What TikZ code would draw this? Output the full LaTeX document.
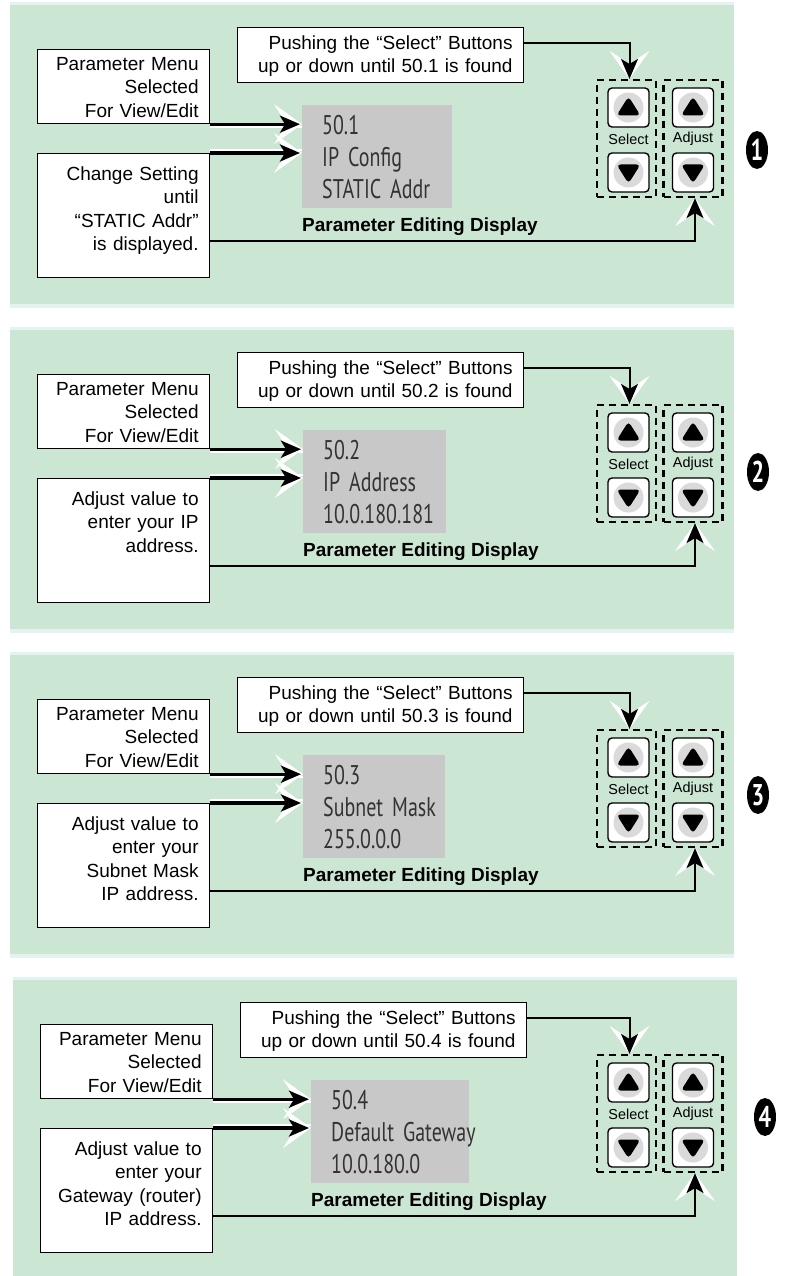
\documentclass[tikz,border=0pt]{standalone}
\usepackage{fontspec}
\setmainfont{Liberation Sans}
\newfontfamily\lcdfont[FakeStretch=0.74, WordSpace=0.6]{PT Sans}
\usepackage{tikz}
\usetikzlibrary{positioning,arrows.meta,shapes.geometric,calc}
\definecolor{panelgreen}{RGB}{203,230,210}
\definecolor{panelrim}{RGB}{228,242,240}
\definecolor{lcdgray}{RGB}{200,200,200}
\definecolor{knobgray}{RGB}{218,218,218}
\tikzset{%
  note/.style={
    draw,
    fill=white,
    line width=1.2pt,
    anchor=north west,
    align=right,
    inner xsep=11pt,
    inner ysep=0pt,
    font=\fontsize{19}{23.5}\selectfont
  },
  lcd/.style={
    fill=lcdgray,
    anchor=north west,
    align=left,
    inner xsep=20pt,
    inner ysep=0pt,
    text height=29pt,
    text depth=74pt,
    text=black!80,
    font=\lcdfont\fontsize{27}{32}\selectfont
  },
  dispcaption/.style={
    anchor=north west,
    inner sep=0pt,
    font=\bfseries\fontsize{19}{22}\selectfont
  },
  padgroup/.style={
    draw,
    dash pattern=on 7pt off 5pt,
    line width=2.2pt,
    minimum width=59pt,
    minimum height=117pt
  },
  button/.style={
    draw,
    fill=white,
    rounded corners=4pt,
    line width=1.4pt,
    minimum width=41pt,
    minimum height=39pt
  },
  knob up/.style={
    button,
    path picture={
      \fill[knobgray] (path picture bounding box.center) circle (15pt);
      \fill[black] (path picture bounding box.center) +(0,-11) -- +(-12,8) -- +(12,8) -- cycle;
    }
  },
  knob down/.style={
    button,
    path picture={
      \fill[knobgray] (path picture bounding box.center) circle (15pt);
      \fill[black] (path picture bounding box.center) +(0,11) -- +(-12,-8) -- +(12,-8) -- cycle;
    }
  },
  padtag/.style={inner sep=0pt, font=\fontsize{14.4}{16}\selectfont},
  badge/.style={
    ellipse,
    fill=black,
    text=white,
    inner sep=0pt,
    minimum width=22pt,
    minimum height=38pt,
    font=\lcdfont\bfseries\fontsize{30}{30}\selectfont
  },
  halo tip/.style={white, line width=0.5pt, -{Stealth[length=28pt, width=40pt, inset=13pt]}},
  halo line/.style={white, line width=2.5pt},
  feed/.style={line width=3.3pt, shorten >=2pt, -{Stealth[length=20pt, width=17pt, inset=5pt]}},
  link/.style={line width=2pt, -{Stealth[length=20pt, width=17pt, inset=5pt]}},
}

\begin{document}
\begin{tikzpicture}[> = stealth, x=1pt, y=-1pt]
\useasboundingbox (0,0) rectangle (788,1276);
\foreach \p/\dy/\bx/\dl/\dr/\nx/\ny/\pname/\pval/\help in {
    1/0/0/302/452/757/150/{IP Config}/{STATIC Addr}/{Change Setting\\until\\“STATIC Addr”\\is displayed.},
    2/325/0/303/446/758/147/{IP Address}/{10.0.180.181}/{Adjust value to\\enter your IP\\address.},
    3/650/0/303/445/758/145/{Subnet Mask}/{255.0.0.0}/{Adjust value to\\enter your\\Subnet Mask\\IP address.},
    4/975/3/311/469/765/142/{Default Gateway}/{10.0.180.0}/{Adjust value to\\enter your\\Gateway (router)\\IP address.}}
{
    % panel
    \fill[panelrim] (10+\bx,2+\dy) rectangle (734+\bx,308+\dy);
    \fill[panelgreen] (10+\bx,5+\dy) rectangle (734+\bx,304+\dy);

    \node[note, text width=150pt, text height=20.6pt, text depth=53.4pt] (menu_\p) at (37+\bx,49+\dy)
        {Parameter Menu\\Selected\\For View/Edit};
    \node[note, text width=150pt, text height=26.6pt, text depth=97.4pt] (help_\p) at (37+\bx,153+\dy)
        {\help};
    \node[note, text width=264pt, text height=21.6pt, text depth=33.4pt] (top_\p) at (237+\bx,27+\dy)
        {Pushing the “Select” Buttons\\up or down until 50.\p{} is found};

    \node[lcd, text width={\dr-\dl-40}] (disp_\p) at (\dl,105+\dy)
        {\mbox{50.\p}\\\mbox{\pname}\\\mbox{\pval}};
    \node[dispcaption] (cap_\p) at ([yshift=-9pt]disp_\p.south west) {Parameter Editing Display};

    % buttons
    \node[padgroup] (sel_\p) at (626.5,138.5+\dy) {};
    \node[padgroup] (adj_\p) at (693,138.5+\dy) {};
    \foreach \g/\gx/\gname in {sel/628.5/Select, adj/693/Adjust} {
        \node[knob up] (\g_up_\p) at (\gx,107.5+\dy) {};
        \node[knob down] (\g_dn_\p) at (\gx,172.5+\dy) {};
        \node[padtag] (\g_tag_\p) at (\gx,139+\dy) {\gname};
    }

    \node[badge] (num_\p) at (\nx,\ny+\dy) {\p};

    % connectors
    \draw[halo tip] (menu_\p.south east) -- (menu_\p.south east -| disp_\p.west);
    \draw[halo tip] (help_\p.north east) -- (help_\p.north east -| disp_\p.west);
    \draw[halo line] ([yshift=-3pt]menu_\p.south east) -- ([yshift=-3pt]menu_\p.south east -| disp_\p.west);
    \draw[halo line] ([yshift=3pt]help_\p.north east) -- ([yshift=3pt]help_\p.north east -| disp_\p.west);
    \draw[feed] (menu_\p.south east) -- (menu_\p.south east -| disp_\p.west);
    \draw[feed] (help_\p.north east) -- (help_\p.north east -| disp_\p.west);

    \draw[halo tip] ([yshift=12.5pt]top_\p.east) -| ([xshift=3pt]sel_\p.north);
    \draw[link] ([yshift=12.5pt]top_\p.east) -| ([xshift=3pt]sel_\p.north);
    \draw[halo tip] ([yshift=-25pt]help_\p.east) -| ([xshift=2pt]adj_\p.south);
    \draw[link] ([yshift=-25pt]help_\p.east) -| ([xshift=2pt]adj_\p.south);
}
\end{tikzpicture}
\end{document}
